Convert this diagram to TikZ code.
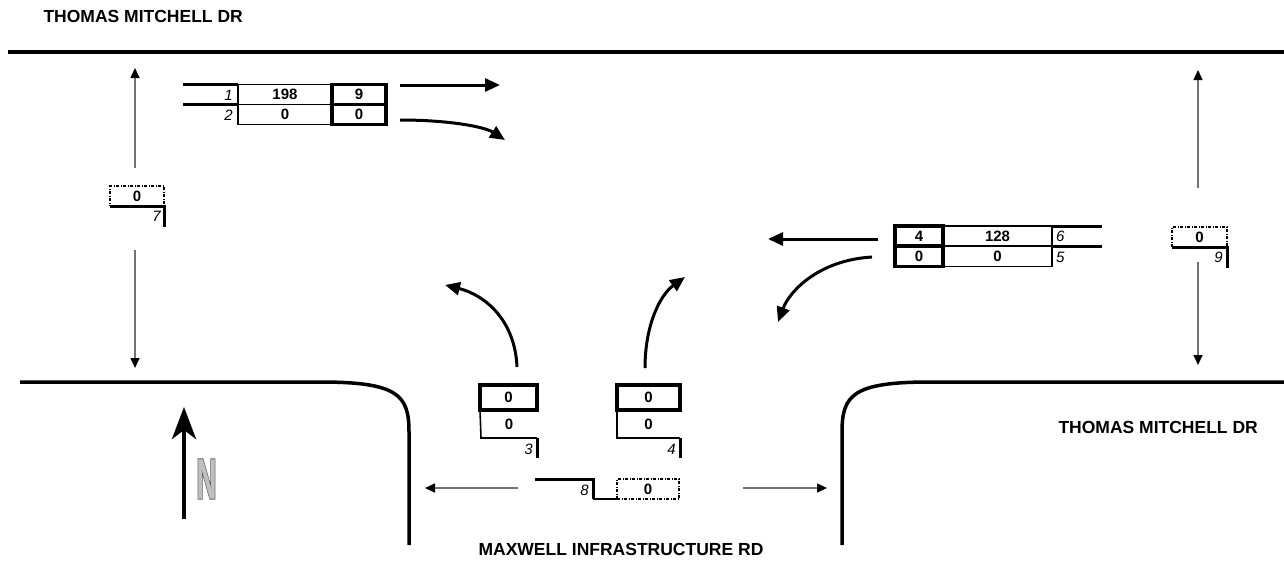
\documentclass[tikz,border=0pt]{standalone}
\usepackage{fontspec}
\setmainfont{Liberation Sans}
\usetikzlibrary{arrows.meta}
\font\northout="Liberation Sans Bold:embolden=5" at 56pt
\font\northin="Liberation Sans Bold:embolden=1" at 56pt

\begin{document}
\begin{tikzpicture}[x=1pt, y=-1pt,
    road/.style={line width=3.5pt},
    lane/.style={line width=3pt},
    thinlane/.style={line width=1.6pt},
    bigarrow/.style={line width=3pt, -{Triangle[length=15pt, width=13pt]}},
    smallarrow/.style={line width=1.5pt, black!55, -{Triangle[length=10pt, width=9pt, color=black]}},
    num/.style={font=\fontsize{15}{18}\selectfont\itshape, inner sep=0pt}]
    \useasboundingbox (0,0) rectangle (1284,563);

    % roads
    \draw[road] (8,52) -- (1284,52);
    \draw[road] (20,382) -- (320,382) .. controls (398,382) and (409,395) .. (409,432) -- (409,545);
    \draw[road] (842,545) -- (842,432) .. controls (842,395) and (853,382) .. (930,382) -- (1284,382);

    \node[font=\fontsize{17.5}{20}\selectfont\bfseries, anchor=west] (roadn) at (40,16) {THOMAS MITCHELL DR};
    \node[font=\fontsize{17.5}{20}\selectfont\bfseries, anchor=west] (roade) at (1055,427) {THOMAS MITCHELL DR};
    \node[font=\fontsize{17.5}{20}\selectfont\bfseries] (roads) at (621,549) {MAXWELL INFRASTRUCTURE RD};

    \begin{scope}[every node/.style={rectangle, draw, line width=1.5pt, minimum height=20pt, inner sep=0pt, outer sep=0pt, font=\fontsize{15}{18}\selectfont\bfseries}]
        % westbound approach (top)
        \node[minimum width=94pt] (n1) at (285,94.5) {198};
        \node[minimum width=94pt] (n2) at (285,114.5) {0};
        \node[minimum width=54pt, line width=3.5pt] (n1r) at (359,94.5) {9};
        \node[minimum width=54pt, line width=3.5pt] (n2r) at (359,114.5) {0};

        % eastbound approach (right)
        \node[minimum width=109pt] (n6) at (997.5,236) {128};
        \node[minimum width=109pt] (n5) at (997.5,256.5) {0};
        \node[minimum width=48pt, line width=3.5pt] (n6l) at (919,236) {4};
        \node[minimum width=48pt, line width=3.5pt] (n5l) at (919,256.5) {0};

        % northbound approach (bottom)
        \node[minimum width=57pt, minimum height=25pt, line width=3.5pt] (n3t) at (508.5,397.5) {0};
        \node[draw=none, minimum width=57pt] (n3) at (509,424) {0};
        \node[minimum width=63pt, minimum height=25pt, line width=3.5pt] (n4t) at (648.5,397.5) {0};
        \node[draw=none, minimum width=63pt] (n4) at (648.5,424) {0};
    \end{scope}

    \begin{scope}[every node/.style={rectangle, draw, line width=1.5pt, dash pattern=on 3pt off 1.5pt on 1pt off 1.5pt, minimum height=20pt, inner sep=0pt, outer sep=0pt, font=\fontsize{15}{18}\selectfont\bfseries}]
        \node[minimum width=54pt] (n7) at (137,196) {0};
        \node[minimum width=55pt] (n9) at (1199.5,237) {0};
        \node[minimum width=62pt] (n8) at (648,489) {0};
    \end{scope}

    % lane lines and movement numbers
    \draw[lane] (183,84.5) -- (n1.north west);
    \draw[lane] (183,104.5) -- (n1.south west);
    \node[num, anchor=east] (m1) at (233,95) {1};
    \node[num, anchor=east] (m2) at (233,115) {2};

    \draw[lane] (n6.north east) -- (1102,226);
    \draw[lane] (n6.south east) -- (1102,246);
    \node[num, anchor=west] (m6) at (1056,236) {6};
    \node[num, anchor=west] (m5) at (1056,257) {5};

    \draw[lane] (n7.south west) -- (n7.south east) -- (164,227);
    \node[num, anchor=east] (m7) at (161,216) {7};
    \draw[lane] (n9.south west) -- (n9.south east) -- (1227,268);
    \node[num, anchor=east] (m9) at (1223,257) {9};

    \draw[thinlane] (n3t.south west) -- (481,438) -- (537,438);
    \draw[lane] (537,438) -- (537,458);
    \node[num, anchor=east] (m3) at (533,449) {3};
    \draw[thinlane] (n4t.south west) -- (617,438) -- (680,438);
    \draw[lane] (680,438) -- (680,458);
    \node[num, anchor=east] (m4) at (676,449) {4};

    \draw[lane] (535,479) -- (593,479) -- (593,499);
    \draw[thinlane] (593,499) -- (n8.south west);
    \node[num, anchor=east] (m8) at (589,490) {8};

    % turning movements
    \draw[bigarrow] (400,85) -- (500,85);
    \draw[bigarrow] (400,120) .. controls (450,120) and (485,127) .. (505,140);
    \draw[bigarrow] (878,239) -- (768,239);
    \draw[bigarrow] (872,257) .. controls (820,260) and (790,290) .. (778,322);
    \draw[bigarrow] (517,367) .. controls (515,320) and (485,295) .. (445,285);
    \draw[bigarrow] (645,368) .. controls (645,325) and (660,295) .. (685,277);

    % pedestrian crossings
    \draw[smallarrow] (135,168) -- (135,68);
    \draw[smallarrow] (135,250) -- (135,368);
    \draw[smallarrow] (1198,188) -- (1198,70);
    \draw[smallarrow] (1198,262) -- (1198,365);
    \draw[smallarrow] (518,488) -- (425,488);
    \draw[smallarrow] (743,488) -- (827,488);

    % north arrow
    \draw[line width=4.5pt, -{Stealth[length=32pt, width=24pt, inset=9pt]}] (184,519) -- (184,407);
    \node[font=\northout, text=black!65, xscale=0.5, inner sep=0pt] (north) at (206.5,479) {N};
    \node[font=\northin, text=black!25, xscale=0.5, inner sep=0pt] (northfill) at (north.center) {N};
\end{tikzpicture}
\end{document}
